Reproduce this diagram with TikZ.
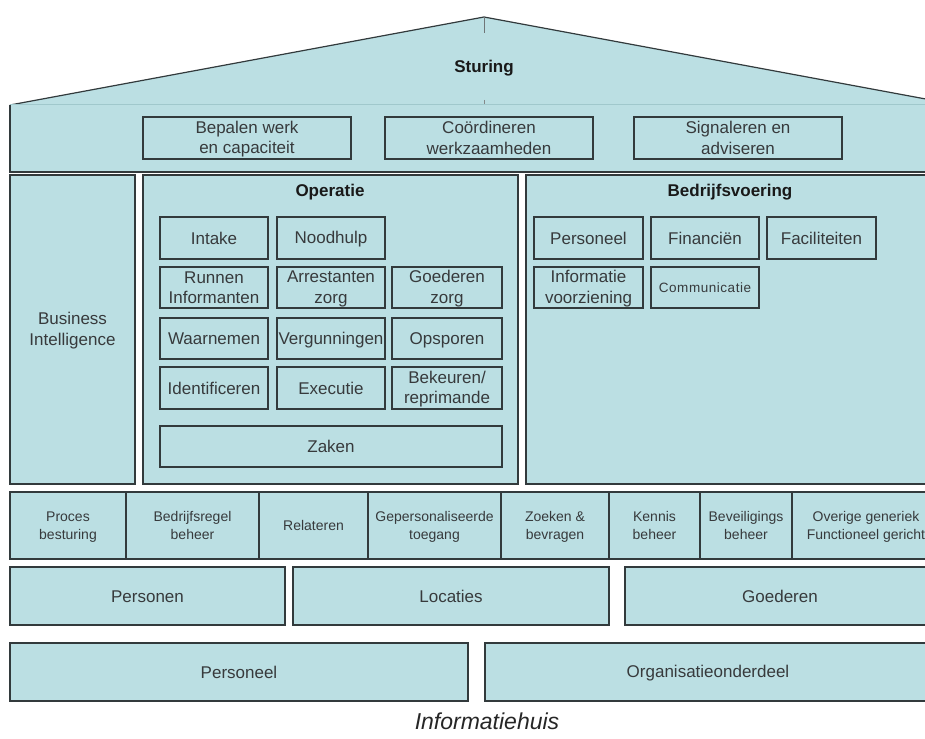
\documentclass[tikz,border=0pt]{standalone}
\usepackage{fontspec}
\setmainfont{Liberation Sans}
\definecolor{fillc}{RGB}{187,223,227}
\definecolor{borderc}{RGB}{50,58,60}
\definecolor{txtc}{RGB}{55,58,60}
\definecolor{faintc}{RGB}{160,200,204}
% struts that centre capital letters in a box
\newcommand\bigstr{\rule[-2.8pt]{0pt}{17.8pt}}
\newcommand\smstr{\rule[-2.6pt]{0pt}{15.6pt}}
\newcommand\ms{\bigstr}
\newcommand\nl{\\\ms}
\tikzset{
  box/.style={draw=borderc, fill=fillc, line width=1.2pt, inner sep=0pt, align=center,
    text=txtc, font=\fontsize{17}{20.5}\selectfont},
  small/.style={font=\fontsize{14}{18.5}\selectfont\let\ms\smstr},
  title/.style={font=\bfseries\fontsize{17}{20}\selectfont, text=black!90, inner sep=0pt},
}
\newcommand\mybox[7][]{\node[box, minimum width={#5-#3}, minimum height={#6-#4}, #1] (#2) at ({(#3+#5)/2},{(#4+#6)/2}) {\ms #7};}
\begin{document}
\begin{tikzpicture}[x=1pt,y=-1pt]
\useasboundingbox (0,0) rectangle (925,738);
\begin{scope}
\clip (0,0) rectangle (925,738);
% roof
\fill[fillc] (10,105) -- (484,17) -- (958,105) -- cycle;
\draw[borderc, line width=1.2pt] (10,105) -- (484,17) -- (958,105);
\draw[borderc!70, line width=0.8pt] (484,17) -- (484,33);
\draw[borderc!60, line width=0.8pt] (484,100) -- (484,105);
% band
\fill[fillc] (10,105) rectangle (960,172);
\draw[faintc, line width=1pt] (10,105) -- (960,105);
\draw[borderc, line width=1.2pt] (10,105) -- (10,172) -- (960,172);
\node[title] (sturing) at (484,68) {Sturing};
\mybox{bepalen}{143}{117}{351}{159}{Bepalen werk\nl en capaciteit}
\mybox{coord}{385}{117}{593}{159}{Coördineren\nl werkzaamheden}
\mybox{signal}{634}{117}{842}{159}{Signaleren en\nl adviseren}
% middle
\mybox{bi}{10}{175}{135}{484}{Business\nl Intelligence}
\mybox{oper}{143}{175}{518}{484}{}
\node[title] (opertitle) at (330,192) {Operatie};
\mybox{bedr}{526}{175}{935}{484}{}
\node[title] (bedrtitle) at (730,192) {Bedrijfsvoering};
% operatie boxes
\mybox{intake}{160}{217}{268}{259}{Intake}
\mybox{nood}{277}{217}{385}{259}{Noodhulp}
\mybox{runnen}{160}{267}{268}{308}{Runnen\nl Informanten}
\mybox{arrest}{277}{267}{385}{308}{Arrestanten\nl zorg}
\mybox{goedzorg}{392}{267}{502}{308}{Goederen\nl zorg}
\mybox{waarn}{160}{318}{268}{359}{Waarnemen}
\mybox{vergun}{277}{318}{385}{359}{Vergunningen}
\mybox{opsp}{392}{318}{502}{359}{Opsporen}
\mybox{ident}{160}{367}{268}{409}{Identificeren}
\mybox{exec}{277}{367}{385}{409}{Executie}
\mybox{bekeur}{392}{367}{502}{409}{Bekeuren/\nl reprimande}
\mybox{zaken}{160}{426}{502}{467}{Zaken}
% bedrijfsvoering boxes
\mybox{pers}{534}{217}{643}{259}{Personeel}
\mybox{fin}{651}{217}{759}{259}{Financiën}
\mybox{fac}{767}{217}{876}{259}{Faciliteiten}
\mybox{info}{534}{267}{643}{308}{Informatie\nl voorziening}
\mybox[font=\fontsize{13.5}{16}\selectfont\addfontfeatures{LetterSpace=4}\let\ms\smstr]{comm}{651}{267}{759}{308}{Communicatie}
% generic function row
\mybox[small]{proces}{10}{492}{126}{559}{Proces\nl besturing}
\mybox[small]{bregel}{126}{492}{259}{559}{Bedrijfsregel\nl beheer}
\mybox[small]{relat}{259}{492}{368}{559}{Relateren}
\mybox[small]{geper}{368}{492}{501}{559}{Gepersonaliseerde\nl toegang}
\mybox[small]{zoek}{501}{492}{609}{559}{Zoeken \&\nl bevragen}
\mybox[small]{kennis}{609}{492}{700}{559}{Kennis\nl beheer}
\mybox[small]{beveil}{700}{492}{792}{559}{Beveiligings\nl beheer}
\mybox[small]{overig}{792}{492}{940}{559}{Overige generiek\nl Functioneel gericht}
% base rows
\mybox{personen}{10}{567}{285}{625}{Personen}
\mybox{locaties}{293}{567}{609}{625}{Locaties}
\mybox{goederen}{625}{567}{935}{625}{Goederen}
\mybox{personeel}{10}{643}{468}{701}{Personeel}
\mybox{orgdeel}{485}{643}{931}{701}{Organisatieonderdeel}
\end{scope}
\node[font=\itshape\fontsize{23}{26}\selectfont, text=black!85, inner sep=0pt] (caption) at (487,721) {Informatiehuis};
\end{tikzpicture}
\end{document}
